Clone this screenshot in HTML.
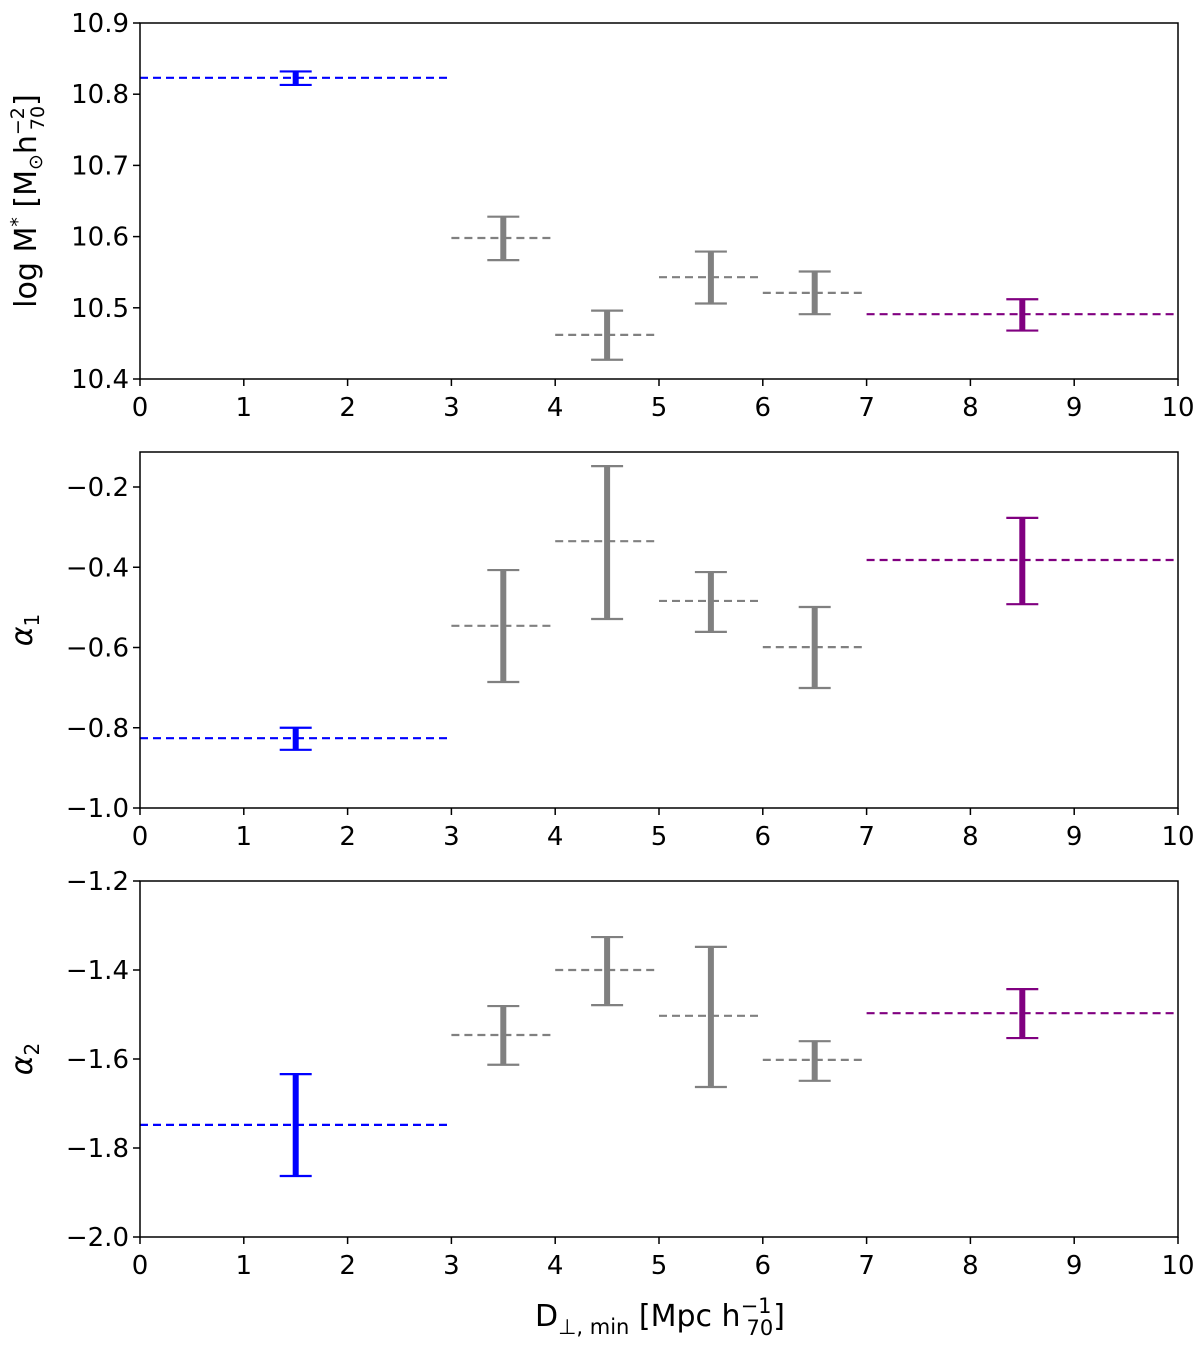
<!DOCTYPE html>
<html><head><meta charset="utf-8"><style>
body{margin:0;background:#fff}
svg text{font-family:"DejaVu Sans","Liberation Sans",sans-serif;fill:#000}
</style></head><body>
<svg id="c" width="1200" height="1351" xmlns="http://www.w3.org/2000/svg" style="position:absolute;left:0;top:0"></svg>
<script>
const xBins = [[0,3],[3,4],[4,5],[5,6],[6,7],[7,10]];
const xCenters = [1.5,3.5,4.5,5.5,6.5,8.5];
const colors = ['#0000ff','#808080','#808080','#808080','#808080','#800080'];
const xTicks = [0,1,2,3,4,5,6,7,8,9,10];
const mVals = [10.823,10.598,10.462,10.543,10.521,10.491];
const mLo = [10.813,10.567,10.427,10.506,10.491,10.468];
const mHi = [10.832,10.628,10.496,10.579,10.551,10.512];
const a1Vals = [-0.826,-0.546,-0.335,-0.484,-0.599,-0.382];
const a1Lo = [-0.855,-0.686,-0.529,-0.561,-0.701,-0.492];
const a1Hi = [-0.800,-0.407,-0.148,-0.412,-0.499,-0.277];
const a2Vals = [-1.748,-1.546,-1.400,-1.503,-1.602,-1.497];
const a2Lo = [-1.863,-1.613,-1.479,-1.663,-1.649,-1.553];
const a2Hi = [-1.634,-1.481,-1.326,-1.348,-1.560,-1.443];
const mTicks = ['10.4','10.5','10.6','10.7','10.8','10.9'];
const a1Ticks = ['−1.0','−0.8','−0.6','−0.4','−0.2'];
const a2Ticks = ['−2.0','−1.8','−1.6','−1.4','−1.2'];

const svg = document.getElementById('c');
const NS = 'http://www.w3.org/2000/svg';
function mk(tag, attrs, parent){const e=document.createElementNS(NS,tag);for(const k in attrs)e.setAttribute(k,attrs[k]);(parent||svg).appendChild(e);return e;}
const X0=140,X1=1178;
const xs = v => X0 + (v/10)*(X1-X0);

const panels = [
 {name:'stellar-mass', top:23, bot:379, ymin:10.4, ymax:10.9, tickVals:[10.4,10.5,10.6,10.7,10.8,10.9], ticks:mTicks, v:mVals, lo:mLo, hi:mHi},
 {name:'alpha1', top:452, bot:808, ymin:-1.0, ymax:-1.0+356/401.25, tickVals:[-1.0,-0.8,-0.6,-0.4,-0.2], ticks:a1Ticks, v:a1Vals, lo:a1Lo, hi:a1Hi},
 {name:'alpha2', top:881, bot:1237, ymin:-2.0, ymax:-1.2, tickVals:[-2.0,-1.8,-1.6,-1.4,-1.2], ticks:a2Ticks, v:a2Vals, lo:a2Lo, hi:a2Hi}
];
panels.forEach(p=>{
 const g = mk('g',{});
 
 
 const ys = v => p.bot - (v-p.ymin)/(p.ymax-p.ymin)*(p.bot-p.top);
 for(let i=0;i<p.v.length;i++){
   const l = mk('line',{x1:xs(xBins[i][0]),x2:xs(xBins[i][1]),y1:ys(p.v[i]),y2:ys(p.v[i]),stroke:colors[i],'stroke-width':2.2,'stroke-dasharray':'8,5'},g);
   
   
   const cx = xs(xCenters[i]);
   const e = mk('line',{x1:cx,x2:cx,y1:ys(p.lo[i]),y2:ys(p.hi[i]),stroke:colors[i],'stroke-width':6},g);
   
   
   [p.lo[i],p.hi[i]].forEach(v=>{
     const c = mk('line',{x1:cx-16,x2:cx+16,y1:ys(v),y2:ys(v),stroke:colors[i],'stroke-width':2.2},g);
     
     
   });
 }
 const fr = mk('rect',{x:X0,y:p.top,width:X1-X0,height:p.bot-p.top,fill:'none',stroke:'#000','stroke-width':1.5},g);
 
 
 xTicks.forEach(t=>{
   mk('line',{x1:xs(t),x2:xs(t),y1:p.bot,y2:p.bot+7,stroke:'#000','stroke-width':1.5},g);
   const tx = mk('text',{x:xs(t),y:p.bot+37,'font-size':26,'text-anchor':'middle'},g);
   tx.textContent=t;
   
   
 });
 p.tickVals.forEach((t,j)=>{
   const y=ys(t);
   mk('line',{x1:X0-7,x2:X0,y1:y,y2:y,stroke:'#000','stroke-width':1.5},g);
   const tx = mk('text',{x:X0-11,y:y+9,'font-size':26,'text-anchor':'end'},g);
   tx.textContent=p.ticks[j];
   
   
 });
});
</script>
<div style="position:absolute;left:0;top:0;width:1200px;height:1351px;pointer-events:none">
<svg width="1200" height="1351" style="position:absolute;left:0;top:0">
 <text transform="translate(36,201) rotate(-90)" text-anchor="middle" font-size="30" font-family="DejaVu Sans,sans-serif">log M<tspan font-size="19" dy="-12">*</tspan><tspan dy="12"> [M</tspan><tspan font-size="19" dy="6">⊙</tspan><tspan dy="-6">h</tspan><tspan font-size="19" dy="-12">−2</tspan><tspan font-size="19" dx="-23" dy="20">70</tspan><tspan dy="-8">]</tspan></text>
 <text transform="translate(32,630) rotate(-90)" text-anchor="middle" font-size="30" font-style="italic" font-family="DejaVu Sans,sans-serif">α<tspan font-size="20" dy="7" font-style="normal">1</tspan></text>
 <text transform="translate(32,1059) rotate(-90)" text-anchor="middle" font-size="30" font-style="italic" font-family="DejaVu Sans,sans-serif">α<tspan font-size="20" dy="7" font-style="normal">2</tspan></text>
 <text x="660" y="1326" text-anchor="middle" font-size="30" font-family="DejaVu Sans,sans-serif">D<tspan font-size="21" dy="8">⊥, min</tspan><tspan dy="-8"> [Mpc h</tspan><tspan font-size="21" dy="-13">−1</tspan><tspan font-size="21" dx="-25" dy="22">70</tspan><tspan dy="-9">]</tspan></text>
</svg></div>
</body></html>
